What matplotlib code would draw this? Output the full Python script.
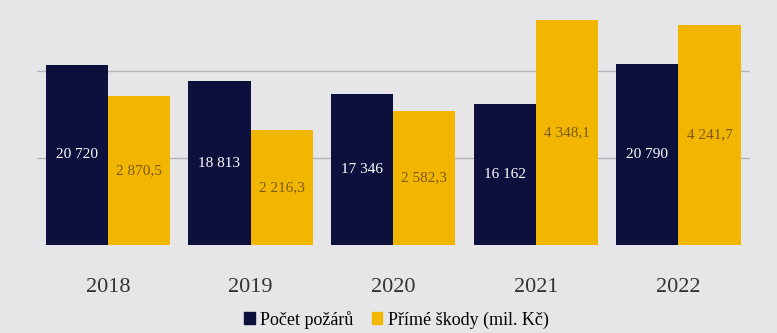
import matplotlib.pyplot as plt
import numpy as np

# Data
roky = ['2018', '2019', '2020', '2021', '2022']
pocet_pozaru = [20720, 18813, 17346, 16162, 20790]
prime_skody = [2870.5, 2216.3, 2582.3, 4348.1, 4241.7]
popisky_pozaru = ['20 720', '18 813', '17 346', '16 162', '20 790']
popisky_skod = ['2 870,5', '2 216,3', '2 582,3', '4 348,1', '4 241,7']

modra = '#0d0f3d'
zluta = '#f2b600'

plt.rcParams['font.family'] = ['Liberation Serif', 'DejaVu Serif']

fig = plt.figure(figsize=(7.77, 3.33), dpi=100, facecolor='#e6e6e8')
ax = fig.add_axes([0.047, 0.265, 0.918, 0.705])
ax2 = ax.twinx()

x = np.arange(len(roky))
w = 0.435

ax.bar(x - w / 2, pocet_pozaru, w, color=modra, zorder=3)
ax2.bar(x + w / 2, prime_skody, w, color=zluta, zorder=3)

ax.set_ylim(0, 27050)
ax2.set_ylim(0, 4541)
ax.set_xlim(-0.5, len(roky) - 0.5)

# Popisky hodnot uprostred sloupcu
for i in range(len(roky)):
    ax.text(x[i] - w / 2, pocet_pozaru[i] / 2, popisky_pozaru[i], ha='center', va='center',
            color='white', fontsize=11)
    ax2.text(x[i] + w / 2, prime_skody[i] / 2, popisky_skod[i], ha='center', va='center',
             color='#7a5a12', fontsize=11)

ax.set_facecolor('#e6e6e8')
ax.set_yticks([10000, 20000])
ax.yaxis.grid(True, color='#b4b4b8', linewidth=1, zorder=0)
ax.set_axisbelow(True)
ax.tick_params(axis='y', left=False, labelleft=False)
ax2.tick_params(axis='y', right=False, labelright=False)
ax.set_xticks(x)
ax.set_xticklabels(roky, fontsize=16, color='#333333')
ax.tick_params(axis='x', length=0, pad=24)
for a in (ax, ax2):
    for s in a.spines.values():
        s.set_visible(False)

# Legenda
handles = [plt.Rectangle((0, 0), 1, 1, color=modra), plt.Rectangle((0, 0), 1, 1, color=zluta)]
fig.legend(handles, ['Počet požárů', 'Přímé škody (mil. Kč)'], loc='center',
           bbox_to_anchor=(0.51, 0.04), ncol=2, frameon=False, fontsize=13,
           handlelength=0.6, handleheight=0.6, handletextpad=0.3, columnspacing=1.0)

fig.savefig('out.png', dpi=100, facecolor=fig.get_facecolor())
